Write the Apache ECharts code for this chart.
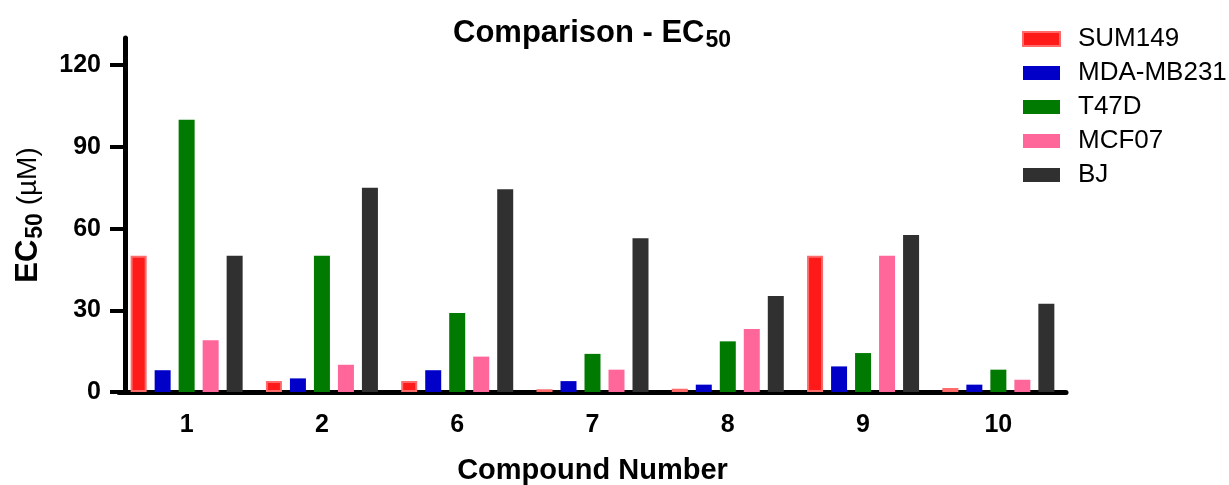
<!DOCTYPE html>
<html>
<head>
<meta charset="utf-8">
<script src="https://cdn.jsdelivr.net/npm/echarts@6/dist/echarts.min.js"></script>
<style>
  html, body { margin: 0; padding: 0; background: #ffffff; }
  #chart { width: 1229px; height: 485px; }
</style>
</head>
<body>
<div id="chart"></div>
<script>
const categories = ['1', '2', '6', '7', '8', '9', '10'];
const seriesNames = ['SUM149', 'MDA-MB231', 'T47D', 'MCF07', 'BJ'];
const sum149 = [50, 4, 4, 1, 1.2, 50, 1.5];
const mdaMb231 = [8, 5, 8, 4, 2.7, 9.4, 2.7];
const t47d = [100, 50, 29, 14, 18.6, 14.3, 8.2];
const mcf07 = [19, 10, 13, 8.2, 23.1, 50, 4.5];
const bj = [50, 75, 74.5, 56.5, 35.3, 57.7, 32.4];
const yTicks = [0, 30, 60, 90, 120];

const FONT = 'Liberation Sans, Arial, sans-serif';
const chart = echarts.init(document.getElementById('chart'), null, { renderer: 'canvas' });

const styles = [
  { color: '#ff1a1a', borderColor: '#ff6a6a', borderWidth: 2 },
  { color: '#0000c8' },
  { color: '#007a00' },
  { color: '#ff6699' },
  { color: '#303030' }
];
const dataSets = [sum149, mdaMb231, t47d, mcf07, bj];

const option = {
  animation: false,
  backgroundColor: '#ffffff',
  title: {
    text: '{a|Comparison - EC}{b|50}',
    left: 448,
    top: 9,
    textStyle: {
      rich: {
        a: { fontSize: 31, fontWeight: 'bold', fontFamily: FONT, color: '#000' },
        b: { fontSize: 23, fontWeight: 'bold', fontFamily: FONT, color: '#000', padding: [15, 0, 0, 1] }
      }
    }
  },
  legend: {
    orient: 'vertical',
    left: 1017,
    top: 21,
    icon: 'rect',
    itemWidth: 37,
    itemHeight: 14,
    itemGap: 8,
    data: seriesNames,
    textStyle: { fontFamily: FONT, fontSize: 26, color: '#000', lineHeight: 26, padding: [0, 0, 0, 13] }
  },
  grid: { left: 119, right: 163, top: 38, bottom: 93, containLabel: false, outerBoundsMode: 'none' },
  xAxis: {
    type: 'category',
    data: categories,
    name: 'Compound Number',
    nameLocation: 'middle',
    nameGap: 64,
    nameTextStyle: { fontFamily: FONT, fontSize: 29, fontWeight: 'bold', color: '#000' },
    axisLine: { lineStyle: { color: '#000', width: 5 } },
    axisTick: { alignWithLabel: true, length: 14, lineStyle: { color: '#000', width: 4 } },
    axisLabel: { margin: 21, fontFamily: FONT, fontSize: 25, fontWeight: 'bold', color: '#000' }
  },
  yAxis: {
    type: 'value',
    min: 0,
    max: 130,
    interval: 30,
    offset: -6,
    name: '{a|EC}{b|50}{c| (µM)}',
    nameLocation: 'middle',
    nameRotate: 90,
    nameGap: 78,
    nameTextStyle: {
      rich: {
        a: { fontSize: 31, fontWeight: 'bold', fontFamily: FONT, color: '#000' },
        b: { fontSize: 23, fontWeight: 'bold', fontFamily: FONT, color: '#000', padding: [15, 0, 0, 1] },
        c: { fontSize: 28, fontFamily: FONT, color: '#000' }
      }
    },
    splitLine: { show: false },
    axisLine: { show: true, lineStyle: { color: '#000', width: 5 } },
    axisTick: { show: true, length: 15, customValues: yTicks, lineStyle: { color: '#000', width: 4 } },
    axisLabel: { margin: 24, customValues: yTicks, fontFamily: FONT, fontSize: 25, fontWeight: 'bold', color: '#000' }
  },
  series: seriesNames.map((name, i) => ({
    name: name,
    type: 'bar',
    data: dataSets[i],
    barWidth: 16,
    barGap: '50%',
    itemStyle: styles[i]
  }))
};
chart.setOption(option);
</script>
</body>
</html>
